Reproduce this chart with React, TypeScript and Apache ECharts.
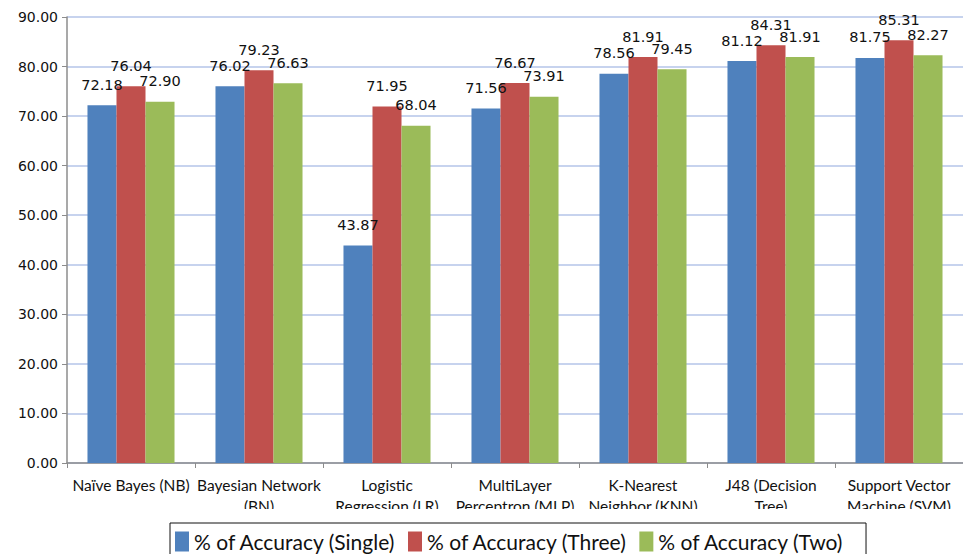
import React, { useEffect, useRef } from "react";
import * as echarts from "echarts";

// Classifier names, with the line breaks used on the category axis
const categories = [
  "Naïve Bayes (NB)",
  "Bayesian Network\n(BN)",
  "Logistic\nRegression (LR)",
  "MultiLayer\nPerceptron (MLP)",
  "K-Nearest\nNeighbor (KNN)",
  "J48 (Decision\nTree)",
  "Support Vector\nMachine (SVM)",
];

const seriesNames = [
  "% of Accuracy (Single)",
  "% of Accuracy (Three)",
  "% of Accuracy (Two)",
];

const singleValues = [72.18, 76.02, 43.87, 71.56, 78.56, 81.12, 81.75];
const threeValues = [76.04, 79.23, 71.95, 76.67, 81.91, 84.31, 85.31];
const twoValues = [72.9, 76.63, 68.04, 73.91, 79.45, 81.91, 82.27];

const colors = ["#4f81bd", "#c0504d", "#9bbb59"];

// fixed text slot widths for the legend entries
const legendSlots = [199, 229, 0];

export default function App() {
  const ref = useRef<HTMLDivElement>(null);

  useEffect(() => {
    if (!ref.current) return;
    const chart = echarts.init(ref.current, null, { renderer: "svg" });

    const labelStyle = {
      show: true,
      position: "top" as const,
      distance: 13,
      fontFamily: "DejaVu Sans",
      fontSize: 14.5,
      color: "#111",
      formatter: (p: any) => Number(p.value).toFixed(2),
    };

    const makeSeries = (name: string, data: number[], color: string) => ({
      name,
      type: "bar",
      data,
      barGap: "0%",
      barCategoryGap: "32%",
      itemStyle: { color },
      label: labelStyle,
    });

    const rich: Record<string, any> = {};
    legendSlots.forEach((w, i) => {
      rich["s" + i] = {
        fontFamily: "Lato",
        fontSize: 21,
        color: "#111",
        ...(w ? { width: w } : {}),
      };
    });

    chart.setOption({
      animation: false,
      color: colors,
      grid: { left: 67, right: -4, top: 17, bottom: 91, containLabel: false },
      legend: {
        left: 170,
        top: 523,
        padding: [8, 22, 10, 5],
        borderColor: "#111",
        borderWidth: 1,
        icon: "rect",
        itemWidth: 14,
        itemHeight: 20,
        itemGap: 12,
        formatter: (name: string) => `{s${seriesNames.indexOf(name)}|${name}}`,
        textStyle: { fontFamily: "Lato", fontSize: 21, color: "#111", rich },
        data: seriesNames,
      },
      xAxis: {
        type: "category",
        data: categories,
        axisLine: { lineStyle: { color: "#8c8c8c", width: 1.5 } },
        axisTick: { show: true, length: 5, lineStyle: { color: "#8c8c8c" } },
        axisLabel: {
          interval: 0,
          margin: 11,
          fontFamily: "Lato",
          fontSize: 15.5,
          lineHeight: 21,
          color: "#111",
        },
      },
      yAxis: {
        type: "value",
        min: 0,
        max: 90,
        interval: 10,
        axisLine: { show: true, lineStyle: { color: "#8c8c8c", width: 1.5 } },
        axisTick: { show: true, length: 5, lineStyle: { color: "#8c8c8c" } },
        splitLine: { lineStyle: { color: "#b5c5e8", width: 1.5 } },
        axisLabel: {
          margin: 9,
          fontFamily: "DejaVu Sans",
          fontSize: 14,
          color: "#111",
          formatter: (v: number) => v.toFixed(2),
        },
      },
      graphic: [
        {
          type: "rect",
          left: 0,
          top: 509,
          shape: { width: 963, height: 13 },
          style: { fill: "#ffffff" },
          z: 100,
        },
      ],
      series: [
        makeSeries(seriesNames[0], singleValues, colors[0]),
        makeSeries(seriesNames[1], threeValues, colors[1]),
        makeSeries(seriesNames[2], twoValues, colors[2]),
      ],
    });

    return () => chart.dispose();
  }, []);

  return (
    <div
      ref={ref}
      style={{ position: "fixed", left: 0, top: 0, width: 963, height: 554, background: "#fff" }}
    />
  );
}
